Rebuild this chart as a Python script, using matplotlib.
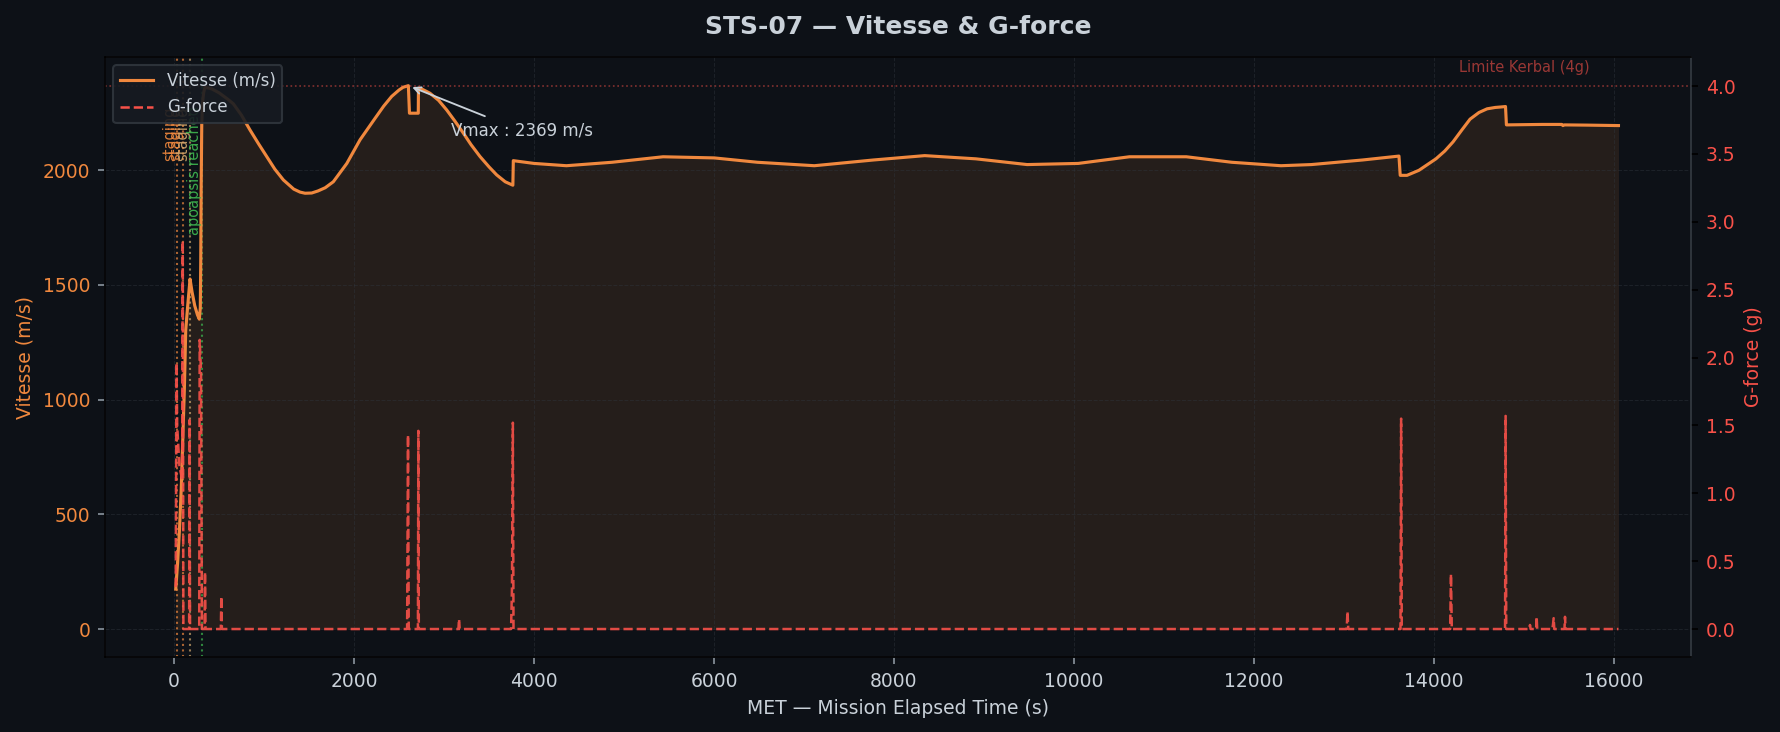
import matplotlib
matplotlib.use("Agg")
import matplotlib.pyplot as plt
from matplotlib.lines import Line2D

# ---------------- data ----------------
vel_t = [19, 40, 60, 80, 97, 115, 130, 150, 178, 200, 230, 260, 281, 292, 297, 302, 308, 318, 330, 344,
         420, 500, 590, 659, 750, 844, 940, 1030, 1120, 1215, 1330, 1400, 1456, 1530, 1600, 1680, 1770,
         1920, 2067,
         2229, 2330, 2418, 2500, 2545, 2604, 2616, 2714, 2716, 2750, 2844, 2940, 3030, 3120, 3215,
         3300, 3400, 3500, 3585, 3680, 3765, 3770,
         4000, 4360, 4866, 5434, 6003, 6483, 7115, 7772, 8341, 8910, 9479, 10047, 10616, 11248,
         11754, 12300, 12638, 13207, 13611, 13625, 13700, 13833, 14022, 14120, 14212, 14310, 14401,
         14500, 14590, 14680, 14741, 14795, 14805, 15000, 15200, 15420, 15433, 15450, 15700, 16050]
vel_v = [174, 290, 430, 610, 824, 1050, 1304, 1400, 1526, 1470, 1410, 1370, 1351, 1400, 1600, 1950, 2200,
         2300, 2340, 2362,
         2355, 2338, 2312, 2290, 2240, 2176, 2115, 2060, 2005, 1958, 1918, 1905, 1900, 1901, 1910, 1924, 1950,
         2030, 2133,
         2224, 2280, 2322, 2350, 2362, 2369, 2249, 2249, 2358, 2355, 2336, 2305, 2263, 2215, 2162,
         2112, 2060, 2015, 1980, 1950, 1935, 2042,
         2030, 2020, 2035, 2059, 2054, 2035, 2020, 2045, 2064, 2050, 2025, 2030, 2059, 2059,
         2035, 2020, 2025, 2045, 2062, 1978, 1978, 2000, 2050, 2084, 2124, 2176, 2223,
         2252, 2268, 2274, 2276, 2278, 2198, 2199, 2200, 2200, 2195, 2198, 2197, 2195]

g_t = [19, 28, 35, 60, 90, 97, 100, 104, 168, 172, 178, 182, 200, 280, 285, 300, 310, 340, 344, 350,
       520, 526, 532, 2590, 2600, 2608, 2710, 2715, 2720, 3160, 3167, 3174, 3745, 3755, 3765, 3772,
       13030, 13039, 13048, 13628, 13635, 13642, 14180, 14189, 14198, 14790, 14796, 14803,
       15060, 15067, 15074, 15135, 15141, 15147, 15315, 15322, 15330, 15337, 15450, 15456, 15462, 16050]
g_v = [0.31, 1.96, 1.5, 1.2, 1.1, 2.86, 1.8, 0.0, 0.0, 1.54, 0.0, 0.0, 0.0, 0.0, 2.13, 1.9, 0.0, 0.0, 0.42, 0.0,
       0.0, 0.24, 0.0, 0.0, 1.43, 0.0, 0.0, 1.46, 0.0, 0.0, 0.074, 0.0, 0.0, 0.3, 1.52, 0.0,
       0.0, 0.13, 0.0, 0.0, 1.55, 0.0, 0.0, 0.405, 0.0, 0.0, 1.57, 0.0,
       0.0, 0.03, 0.0, 0.0, 0.09, 0.0, 0.0, 0.03, 0.08, 0.0, 0.0, 0.09, 0.0, 0.0]

event_t = [37, 97, 178, 314]
event_label = ["staging", "staging", "staging", "apoapsis reached"]
event_color = ["#f0883e", "#f0883e", "#d2a86e", "#3fb950"]

vmax_t = 2604
vmax_v = 2369

# ---------------- style ----------------
BG = "#0d1117"
ORANGE = "#f0883e"
RED = "#f85149"
TXT = "#c9d1d9"
GRID = "#30363d"

fig = plt.figure(figsize=(1780 / 150, 732 / 150), dpi=150, facecolor=BG)
ax1 = fig.add_axes([105 / 1780, 1 - 657 / 732, (1691 - 105) / 1780, (657 - 57) / 732])
ax1.set_facecolor(BG)
ax2 = ax1.twinx()

ax1.plot(vel_t, vel_v, color=ORANGE, lw=1.5, label="Vitesse (m/s)", zorder=3)
ax1.fill_between(vel_t, vel_v, 0, color=ORANGE, alpha=0.11, lw=0, zorder=1)

ax2.plot(g_t, g_v, color=RED, lw=1.2, ls="--", label="G-force", alpha=0.9)
ax2.axhline(4.0, color=RED, ls=":", lw=0.8, alpha=0.5)
ax2.text(15730, 4.08, "Limite Kerbal (4g)", color=RED, alpha=0.6, fontsize=7,
         ha="right", va="bottom")

for t, lab, c in zip(event_t, event_label, event_color):
    ax1.axvline(t, color=c, ls=":", lw=1.0, alpha=0.7, zorder=2)
    ax1.text(t, 2280, lab, rotation=90, color=c, fontsize=7, ha="right", va="top", alpha=0.9)

ax1.annotate(f"Vmax : {vmax_v} m/s", xy=(vmax_t, vmax_v), xytext=(3075, 2150),
             color=TXT, fontsize=8,
             arrowprops=dict(arrowstyle="->", color=TXT, lw=0.9))

ax1.set_xlim(-767, 16856)
ax1.set_ylim(-122, 2494)
ax2.set_ylim(-0.206, 4.214)
ax1.set_xticks(range(0, 16001, 2000))
ax1.set_yticks(range(0, 2001, 500))
ax2.set_yticks([0, 0.5, 1, 1.5, 2, 2.5, 3, 3.5, 4])

ax1.tick_params(axis="x", colors="#8b949e", labelcolor=TXT, labelsize=9)
ax1.tick_params(axis="y", colors="#8b949e", labelcolor=ORANGE, labelsize=9)
ax2.tick_params(axis="y", labelcolor=RED, labelsize=9)

ax1.set_xlabel("MET — Mission Elapsed Time (s)", color=TXT, fontsize=9)
ax1.set_ylabel("Vitesse (m/s)", color=ORANGE, fontsize=9)
ax2.set_ylabel("G-force (g)", color=RED, fontsize=9)
ax1.set_title("STS-07 — Vitesse & G-force", color=TXT, fontsize=12, fontweight="bold", pad=11)

ax1.grid(True, color=GRID, ls="--", lw=0.5, alpha=0.45)
for s in ax1.spines.values():
    s.set_color(GRID)
for k in ("left", "bottom", "top"):
    ax2.spines[k].set_color("black")
ax2.spines["right"].set_color(GRID)

handles = [Line2D([], [], color=ORANGE, lw=1.5), Line2D([], [], color=RED, lw=1.2, ls="--")]
leg = ax2.legend(handles, ["Vitesse (m/s)", "G-force"], loc="upper left", fontsize=8,
                 facecolor="#161b22", edgecolor=GRID, labelcolor=TXT, framealpha=0.9)
leg.set_zorder(10)

fig.savefig("out.png", dpi=150, facecolor=BG)
